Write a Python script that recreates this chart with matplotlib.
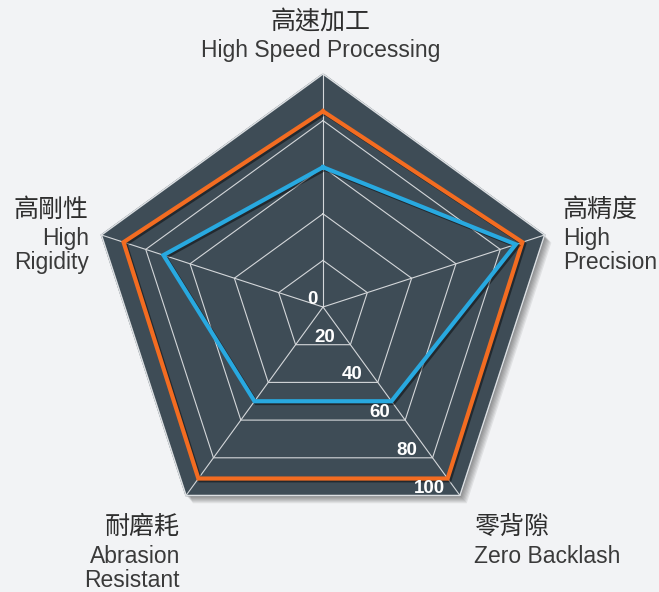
import numpy as np
import matplotlib.pyplot as plt
import matplotlib.patheffects as pe
from matplotlib.transforms import offset_copy

# axis names, clockwise from the top
cn_labels = ['高速加工', '高精度', '零背隙', '耐磨耗', '高剛性']
en_labels = [['High Speed Processing'], ['High', 'Precision'], ['Zero Backlash'],
             ['Abrasion', 'Resistant'], ['High', 'Rigidity']]

orange_vals = [84, 90, 91, 91, 90]
blue_vals = [60, 87, 50, 50, 72]
ticks = [0, 20, 40, 60, 80, 100]

W, H = 659, 592
bg = '#f2f3f5'
panel = '#3e4c56'
grid_c = '#d4d7da'
orange = '#f36c21'
blue = '#28a9e0'

n = len(cn_labels)
angles = np.linspace(0, 2 * np.pi, n, endpoint=False)
closed = np.append(angles, angles[0])


def ring(vals):
    vals = list(vals)
    return vals + vals[:1]


fig = plt.figure(figsize=(W / 100, H / 100), dpi=100, facecolor=bg)
ax = fig.add_axes([90 / W, 52 / H, 466 / W, 466 / H], projection='polar')
ax.set_theta_offset(np.pi / 2)
ax.set_theta_direction(-1)
ax.set_ylim(0, 100)
ax.axis('off')

# dark pentagon with a soft drop shadow
soft = [pe.SimplePatchShadow(offset=(k * 0.7, -k * 0.8), shadow_rgbFace='black', alpha=0.07)
        for k in range(1, 8)]
ax.fill(closed, ring([100] * n), color=panel, zorder=1, clip_on=False,
        path_effects=soft + [pe.Normal()])

# grid rings and spokes
for v in ticks[1:-1]:
    ax.plot(closed, ring([v] * n), color=grid_c, lw=0.8, zorder=2)
for a in angles:
    ax.plot([a, a], [0, 100], color=grid_c, lw=0.8, zorder=2, clip_on=False)
ax.plot(closed, ring([100] * n), color='#dcdfe2', lw=1.1, zorder=2, clip_on=False)

# the two series
line_fx = [pe.SimpleLineShadow(offset=(1.3, -1.3), shadow_color='black', alpha=0.45), pe.Normal()]
ax.plot(closed, ring(orange_vals), color=orange, lw=3, zorder=4, clip_on=False,
        solid_joinstyle='miter', path_effects=line_fx)
ax.plot(closed, ring(blue_vals), color=blue, lw=3, zorder=4, clip_on=False,
        solid_joinstyle='miter', path_effects=line_fx)

# value labels along the lower-right spoke
for v in ticks:
    dx = -5 if v == 0 else -15
    tr = offset_copy(ax.transData, fig=fig, x=dx, y=3, units='dots')
    ax.text(angles[2], v, str(v), transform=tr, ha='right', va='baseline',
            color='white', fontsize=13.5, fontweight='bold', family='Liberation Sans',
            zorder=5, clip_on=False)


def put(x, y, s, **kw):
    fig.text(x / W, 1 - y / H, s, **kw)


cn_font = dict(family=['Noto Sans CJK TC', 'DejaVu Sans'], fontsize=18, color='#2e2e2e',
               va='center')
en_font = dict(family='Liberation Sans', fontsize=16.5, color='#3a3a3a', va='baseline')

# label anchors: (x, cn centre y, first english baseline, alignment)
anchors = [(321, 22, 57, 'center'), (563, 210, 245, 'left'), (474, 527, 563, 'left'),
           (180, 527, 563, 'right'), (89, 210, 245, 'right')]
for (x, cy, by, al), cn, en in zip(anchors, cn_labels, en_labels):
    put(x, cy, cn, ha=al, **cn_font)
    for i, line in enumerate(en):
        put(x, by + i * 24, line, ha=al, **en_font)

fig.savefig('out.png', dpi=100, facecolor=bg)
